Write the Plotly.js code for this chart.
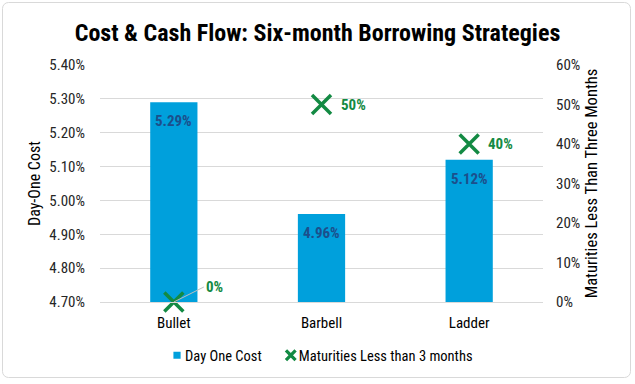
<!DOCTYPE html>
<html><head><meta charset="utf-8">
<script src="https://cdn.plot.ly/plotly-3.0.1.min.js"></script>
<style>html,body{margin:0;padding:0;background:#fff}#chart{width:635px;height:384px}</style>
</head><body><div id="chart"></div>
<script>
const categories = ['Bullet', 'Barbell', 'Ladder'];
const dayOneCost = [5.29, 4.96, 5.12];
const maturities = [0, 50, 40];
const costLabels = ['5.29%', '4.96%', '5.12%'];
const maturityLabels = ['0%', '50%', '40%'];

const FONT = 'Roboto Condensed, Arial Narrow, Liberation Sans Narrow, sans-serif';
const GREEN = '#138a43';
const LABEL_BLUE = '#1c4f8c';

const traces = [
  {
    type: 'bar', name: 'Day One Cost', x: categories, y: dayOneCost,
    marker: {color: '#00a0dc'}, width: 0.32,
    hoverinfo: 'skip'
  },
  {
    type: 'scatter', mode: 'markers', name: 'Maturities Less than 3 months',
    x: categories, y: maturities, yaxis: 'y2',
    marker: {symbol: 'x-thin', size: 19, line: {width: 3.5, color: GREEN}, color: GREEN},
    cliponaxis: false, hoverinfo: 'skip'
  }
];

const costAnnotations = dayOneCost.map((v, i) => ({
  x: categories[i], y: v, xref: 'x', yref: 'y', text: costLabels[i],
  showarrow: false, yanchor: 'top', yshift: -8,
  font: {family: FONT, size: 15, color: LABEL_BLUE, weight: 'bold'}
}));

const maturityAnnotations = maturities.map((v, i) => {
  if (i === 0) {
    return {x: categories[i], y: v, xref: 'x', yref: 'y2', text: maturityLabels[i],
      showarrow: true, arrowhead: 0, arrowwidth: 1, arrowcolor: '#bfbfbf',
      ax: 30, ay: -15, xanchor: 'left', standoff: 0,
      font: {family: FONT, size: 15, color: GREEN, weight: 'bold'}};
  }
  return {x: categories[i], y: v, xref: 'x', yref: 'y2', text: maturityLabels[i],
    showarrow: false, xanchor: 'left', xshift: 17,
    font: {family: FONT, size: 15, color: GREEN, weight: 'bold'}};
});

const layout = {
  width: 635, height: 384,
  margin: {l: 100, r: 92, t: 65, b: 82},
  paper_bgcolor: '#ffffff', plot_bgcolor: '#ffffff',
  font: {family: FONT, size: 14, color: '#262626'},
  title: {text: 'Cost & Cash Flow: Six-month Borrowing Strategies', x: 0.5, xanchor: 'center', y: 0.915, yanchor: 'middle',
    font: {family: FONT, size: 24, color: '#000000', weight: 'bold'}},
  xaxis: {showgrid: false, showline: true, linecolor: '#d9d9d9', linewidth: 1, ticks: '',
    ticklabelstandoff: 7,
    tickfont: {family: FONT, size: 15, color: '#000'}},
  yaxis: {range: [4.7, 5.4], dtick: 0.1, tickformat: '.2f', ticksuffix: '%',
    showgrid: true, gridcolor: '#d9d9d9', gridwidth: 1, zeroline: false, showline: false,
    tickfont: {family: FONT, size: 15, color: '#262626'}, ticklabelstandoff: 14,
    title: {text: 'Day-One Cost', font: {family: FONT, size: 16, color: '#000'}, standoff: 4}},
  yaxis2: {overlaying: 'y', side: 'right', range: [0, 60], dtick: 10, ticksuffix: '%',
    showgrid: false, zeroline: false, showline: false,
    tickfont: {family: FONT, size: 15, color: '#262626'}, ticklabelstandoff: 12,
    title: {text: 'Maturities Less Than Three Months', font: {family: FONT, size: 16.5, color: '#000'}, standoff: 6}},
  showlegend: true,
  legend: {orientation: 'h', x: 0.4865, xanchor: 'center', y: -0.225, yanchor: 'middle',
    font: {family: FONT, size: 14.5, color: '#000'}, itemwidth: 30, traceorder: 'normal'},
  annotations: costAnnotations.concat(maturityAnnotations)
};

Plotly.newPlot('chart', traces, layout, {displayModeBar: false, staticPlot: true}).then(() => {
  const root = document.getElementById('chart');
  const groups = root.querySelectorAll('.legend .traces');
  groups.forEach((g, gi) => {
    g.querySelectorAll('.legendpoints path').forEach(p => {
      const t = p.getAttribute('transform') || '';
      p.setAttribute('transform', t + ' translate(12,0) scale(0.6)');
      if (gi === 1) p.style.strokeWidth = '5.5px';
    });
    if (gi === 1) {
      const t = g.getAttribute('transform') || '';
      const m = t.match(/translate\(\s*([-\d.]+)[ ,]+([-\d.]+)\s*\)/);
      if (m) g.setAttribute('transform', 'translate(' + (parseFloat(m[1]) - 8) + ',' + m[2] + ')');
    }
  });
  const svg = root.querySelector('svg.main-svg');
  const ns = 'http://www.w3.org/2000/svg';
  const r = document.createElementNS(ns, 'rect');
  r.setAttribute('x', 2.5); r.setAttribute('y', 2.5);
  r.setAttribute('width', 628); r.setAttribute('height', 375);
  r.setAttribute('rx', 6); r.setAttribute('fill', 'none');
  r.setAttribute('stroke', '#d9d9d9'); r.setAttribute('stroke-width', 1);
  svg.appendChild(r);
});
</script>
</body></html>
